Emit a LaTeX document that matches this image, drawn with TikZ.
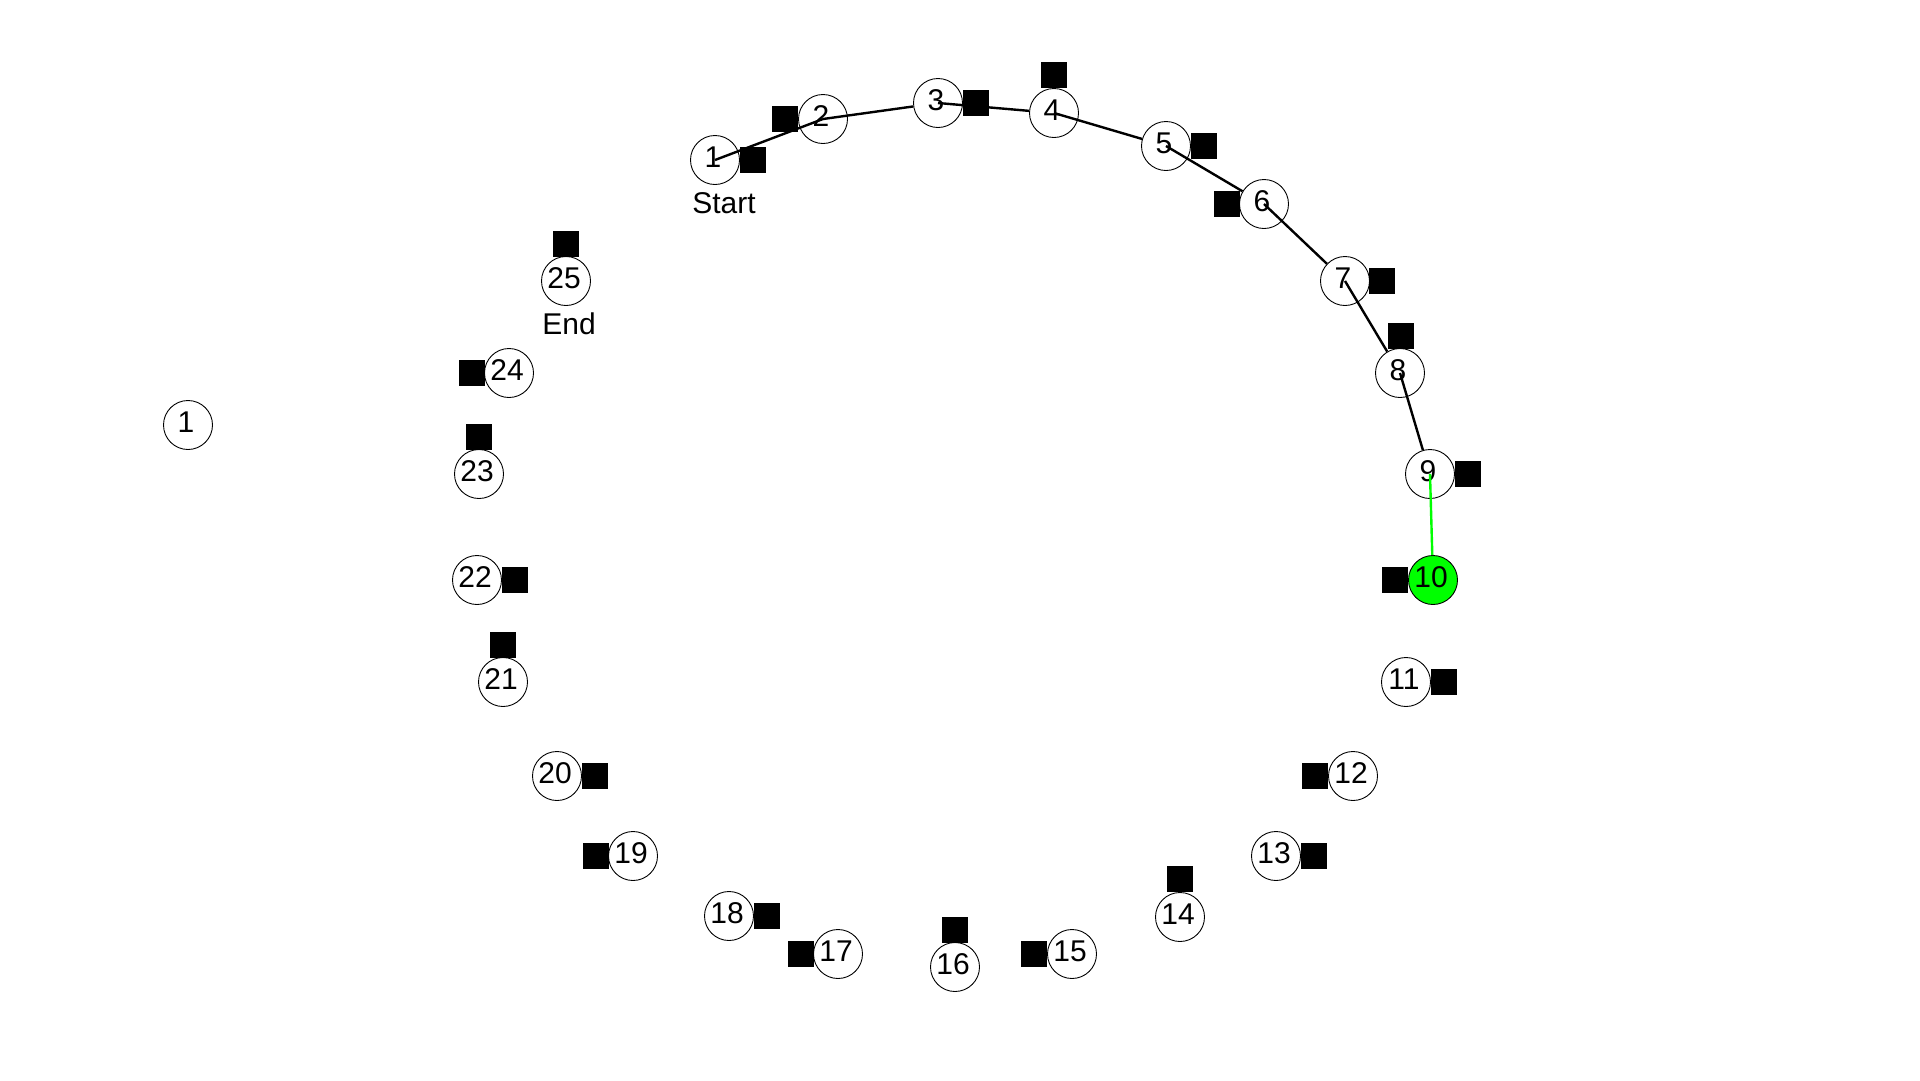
\documentclass[tikz,border=0pt]{standalone}
\usepackage{fontspec}
\setmainfont{Liberation Sans}
\definecolor{vgreen}{RGB}{0,255,0}
\begin{document}
\begin{tikzpicture}[x=1pt,y=-1pt,
  circ/.style={circle,draw=black,line width=0.9pt,fill=white,minimum size=49pt,inner sep=0pt,
    text depth=5pt,execute at end node={\kern4pt},font=\fontsize{30}{36}\selectfont},
  sq/.style={rectangle,fill=black,minimum size=26pt,inner sep=0pt},
  lbl/.style={inner sep=0pt,font=\fontsize{30}{36}\selectfont},
  edge/.style={draw=black,line width=2.4pt},
  gedge/.style={draw=vgreen,line width=2.4pt}]
\useasboundingbox[fill=white] (0,0) rectangle (1920,1080);
% circle nodes
\node[circ] (n1)  at (715,160) {1};
\node[circ] (n2)  at (823,119) {2};
\node[circ] (n3)  at (938,103) {3};
\node[circ] (n4)  at (1054,113) {4};
\node[circ] (n5)  at (1166,146) {5};
\node[circ] (n6)  at (1264,204) {6};
\node[circ] (n7)  at (1345,281) {7};
\node[circ] (n8)  at (1400,373) {8};
\node[circ] (n9)  at (1430,474) {9};
\node[circ,fill=vgreen] (n10) at (1433,580) {10};
\node[circ] (n11) at (1406,682) {11};
\node[circ] (n12) at (1353,776) {12};
\node[circ] (n13) at (1276,856) {13};
\node[circ] (n14) at (1180,917) {14};
\node[circ] (n15) at (1072,954) {15};
\node[circ] (n16) at (955,967) {16};
\node[circ] (n17) at (838,954) {17};
\node[circ] (n18) at (729,916) {18};
\node[circ] (n19) at (633,856) {19};
\node[circ] (n20) at (557,776) {20};
\node[circ] (n21) at (503,682) {21};
\node[circ] (n22) at (477,580) {22};
\node[circ] (n23) at (479,474) {23};
\node[circ] (n24) at (509,373) {24};
\node[circ] (n25) at (566,281) {25};
\node[circ] (iso) at (188,425) {1};
% labels
\node[lbl] (start) at (724,203) {Start};
\node[lbl] (end) at (569,324) {End};
% squares
\node[sq] (s1)  at (753,160) {};
\node[sq] (s2)  at (785,119) {};
\node[sq] (s3)  at (976,103) {};
\node[sq] (s4)  at (1054,75) {};
\node[sq] (s5)  at (1204,146) {};
\node[sq] (s6)  at (1227,204) {};
\node[sq] (s7)  at (1382,281) {};
\node[sq] (s8)  at (1401,336) {};
\node[sq] (s9)  at (1468,474) {};
\node[sq] (s10) at (1395,580) {};
\node[sq] (s11) at (1444,682) {};
\node[sq] (s12) at (1315,776) {};
\node[sq] (s13) at (1314,856) {};
\node[sq] (s14) at (1180,879) {};
\node[sq] (s15) at (1034,954) {};
\node[sq] (s16) at (955,930) {};
\node[sq] (s17) at (801,954) {};
\node[sq] (s18) at (767,916) {};
\node[sq] (s19) at (596,856) {};
\node[sq] (s20) at (595,776) {};
\node[sq] (s21) at (503,645) {};
\node[sq] (s22) at (515,580) {};
\node[sq] (s23) at (479,437) {};
\node[sq] (s24) at (472,373) {};
\node[sq] (s25) at (566,244) {};
% path edges
\draw[edge] (n1.center) -- (n2.center);
\draw[edge] (n2.center) -- (n3);
\draw[edge] (n3.center) -- (n4);
\draw[edge] (n4.center) -- (n5);
\draw[edge] (n5.center) -- (n6);
\draw[edge] (n6.center) -- (n7);
\draw[edge] (n7.center) -- (n8);
\draw[edge] (n8.center) -- (n9);
\draw[gedge] (n9.center) -- (n10);
\end{tikzpicture}
\end{document}
